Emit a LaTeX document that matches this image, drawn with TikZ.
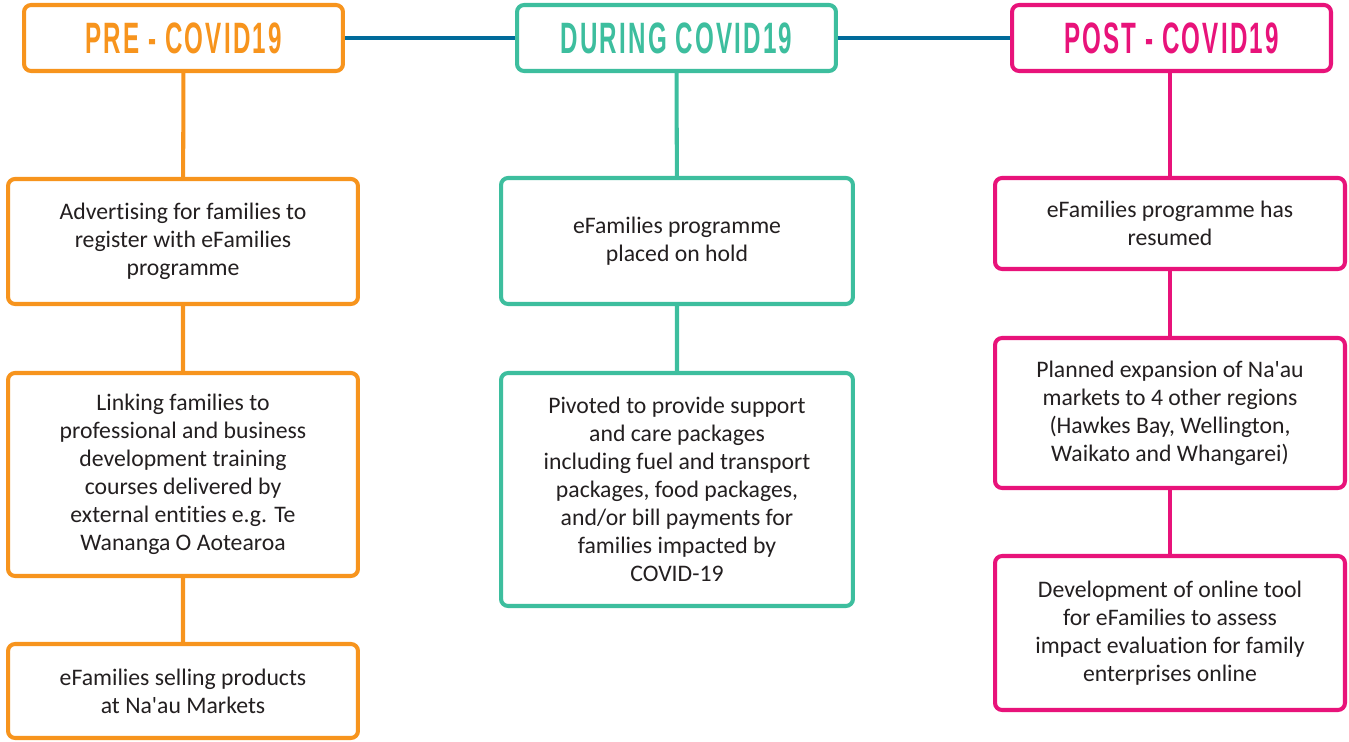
\documentclass[tikz,border=0pt]{standalone}
\usepackage{fontspec}
\setmainfont[Ligatures=NoCommon]{Carlito}
\newfontfamily\headfont[FakeStretch=0.55,LetterSpace=5]{Liberation Sans}
\definecolor{preorange}{HTML}{F7941D}
\definecolor{duringteal}{HTML}{3DBE9E}
\definecolor{postpink}{HTML}{E8137A}
\definecolor{linkblue}{HTML}{006B9A}
\definecolor{inkgray}{HTML}{231F20}
\usetikzlibrary{positioning}

\begin{document}
\begin{tikzpicture}[
    x=0.02cm,y=-0.02cm,
    head/.style={rectangle,rounded corners=4pt,draw=#1,fill=white,line width=2.3pt,
      minimum width=6.38cm,minimum height=1.32cm,text=#1,
      font=\headfont\bfseries\fontsize{25}{28}\selectfont},
    stage/.style={rectangle,rounded corners=4pt,draw=#1,fill=white,line width=2.3pt,
      align=center,text=inkgray,font=\fontsize{13.5}{15.9}\selectfont},
    tie/.style={-,line width=2.3pt,#1},
    link/.style={-,line width=2.3pt,linkblue}
  ]
    \useasboundingbox (0,0) rectangle (1349,742);
    % Headers
    \node[head=preorange] (pre) at (183.5,38) {PRE - COVID19};
    \node[head=duringteal] (dur) at (676.5,38) {DURING COVID19};
    \node[head=postpink] (post) at (1171.5,38) {POST - COVID19};
    \draw[link] (pre) -- (dur);
    \draw[link] (dur) -- (post);
    % Pre column
    \foreach \n/\y/\h/\t in {
        a1/241.5/125/{Advertising for families to\\register with eFamilies\\programme},
        a2/474.5/203/{Linking families to\\professional and business\\development training\\courses delivered by\\external entities e.g. Te\\Wananga O Aotearoa},
        a3/691/94/{eFamilies selling products\\at Na\textquotesingle au Markets}} {
      \node[stage=preorange,minimum width=7cm,minimum height=\h*0.02cm] (\n) at (183,\y) {\t};
    }
    % During column
    \foreach \n/\y/\h/\t in {
        b1/241/126/{eFamilies programme\\placed on hold},
        b2/489.5/233/{Pivoted to provide support\\and care packages\\including fuel and transport\\packages, food packages,\\and/or bill payments for\\families impacted by\\COVID-19}} {
      \node[stage=duringteal,minimum width=7.04cm,minimum height=\h*0.02cm] (\n) at (677,\y) {\t};
    }
    % Post column
    \foreach \n/\y/\h/\t in {
        c1/223.5/91/{eFamilies programme has\\resumed},
        c2/413/150/{Planned expansion of Na\textquotesingle au\\markets to 4 other regions\\(Hawkes Bay, Wellington,\\Waikato and Whangarei)},
        c3/633/154/{Development of online tool\\for eFamilies to assess\\impact evaluation for family\\enterprises online}} {
      \node[stage=postpink,minimum width=7cm,minimum height=\h*0.02cm] (\n) at (1170,\y) {\t};
    }
    % Vertical ties
    \draw[tie=preorange] (pre) -- (a1) (a1) -- (a2) (a2) -- (a3);
    \draw[tie=duringteal] (dur) -- (b1) (b1) -- (b2);
    \draw[tie=postpink] (post.south -| c1.north) -- (c1) (c1) -- (c2) (c2) -- (c3);
  \end{tikzpicture}
\end{document}
